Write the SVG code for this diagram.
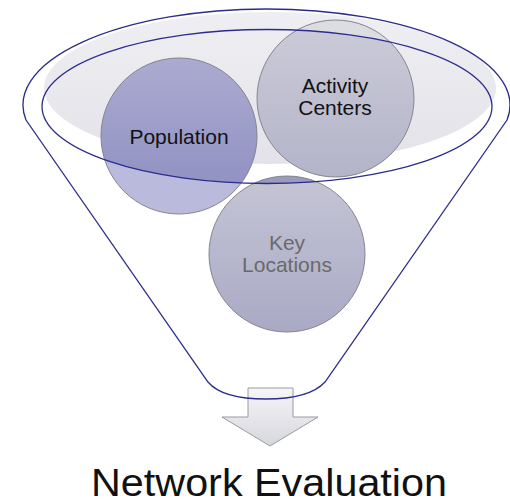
<svg xmlns="http://www.w3.org/2000/svg" width="510" height="504" viewBox="0 0 510 504">
<style>
.blue{fill:none;stroke:#2c2c8e;stroke-width:1.3}
.ring{fill:none;stroke:#858590;stroke-width:1}
.lbl{font-family:"Liberation Sans",Arial,sans-serif;font-size:21px;text-anchor:middle}
</style>
<defs>
<linearGradient id="gShadow" x1="0" y1="0" x2="0" y2="1">
<stop offset="0" stop-color="#efeff3"/><stop offset="1" stop-color="#e2e2e8"/>
</linearGradient>
<linearGradient id="gPopIn" x1="0" y1="0" x2="0" y2="1">
<stop offset="0" stop-color="#ababd1"/><stop offset="1" stop-color="#8c8cc0"/>
</linearGradient>
<linearGradient id="gActIn" x1="0" y1="0" x2="0" y2="1">
<stop offset="0" stop-color="#cbcbd9"/><stop offset="1" stop-color="#b4b4c9"/>
</linearGradient>
<linearGradient id="gKey" x1="0" y1="0" x2="0" y2="1">
<stop offset="0" stop-color="#c5c5d5"/><stop offset="1" stop-color="#a9a9c5"/>
</linearGradient>
<linearGradient id="gArrow" x1="0" y1="0" x2="0" y2="1">
<stop offset="0" stop-color="#f6f6f8"/><stop offset="1" stop-color="#d6d6de"/>
</linearGradient>
<clipPath id="inner"><ellipse cx="267" cy="106.5" rx="225" ry="77"/></clipPath>
</defs>
<rect width="510" height="504" fill="#ffffff"/>
<ellipse id="shadow" cx="270" cy="88" rx="226" ry="76" fill="url(#gShadow)"/>
<g id="connectors">
<path d="M248,388 H293 V417 H318 L270,446 L222,417 H248 Z" fill="url(#gArrow)" stroke="#9a9aa0" stroke-width="1"/>
</g>
<g id="node-population">
<circle cx="179" cy="136" r="78" fill="#babadc"/>
<circle cx="179" cy="136" r="78" fill="url(#gPopIn)" clip-path="url(#inner)"/>
<circle cx="179" cy="136" r="78" class="ring"/>
<text class="lbl" x="179" y="144" fill="#111111">Population</text>
</g>
<g id="node-activity">
<circle cx="335.5" cy="98.5" r="78.5" fill="#dcdce3"/>
<circle cx="335.5" cy="98.5" r="78.5" fill="url(#gActIn)" clip-path="url(#inner)"/>
<circle cx="335.5" cy="98.5" r="78.5" class="ring"/>
<text class="lbl" x="335" y="93" fill="#111111">Activity</text>
<text class="lbl" x="335" y="115" fill="#111111">Centers</text>
</g>
<g id="node-key">
<circle cx="287" cy="254" r="78" fill="url(#gKey)"/>
<circle cx="287" cy="254" r="78" fill="#9a9abb" clip-path="url(#inner)"/>
<circle cx="287" cy="254" r="78" class="ring"/>
<text class="lbl" x="287" y="250" fill="#6a6a6a">Key</text>
<text class="lbl" x="287" y="272" fill="#6a6a6a">Locations</text>
</g>
<g id="funnel">
<path class="blue" d="M26,120 A243.5,96 0 1 1 507,120 L325,382 C314,394 292,399 266,399 C240,399 218,394 208,382 Z"/>
<ellipse class="blue" cx="267" cy="106.5" rx="225" ry="77"/>
</g>
<g id="label">
<text x="269" y="496" font-family="'Liberation Sans',Arial,sans-serif" font-size="38" text-anchor="middle" fill="#111111" textLength="356" lengthAdjust="spacingAndGlyphs">Network Evaluation</text>
</g>
</svg>
